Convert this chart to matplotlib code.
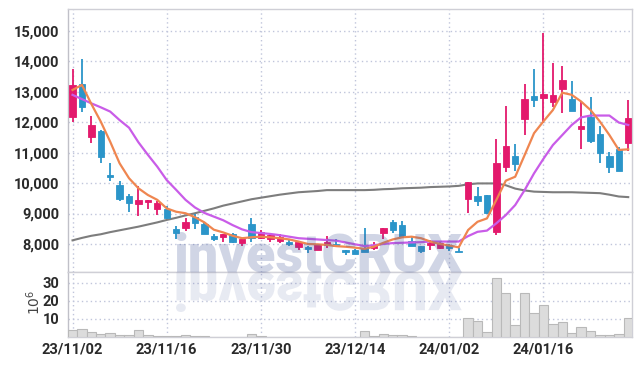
import matplotlib
matplotlib.use("Agg")
import matplotlib.pyplot as plt
import numpy as np
from matplotlib.textpath import TextPath
from matplotlib.patches import PathPatch
from matplotlib.font_manager import FontProperties
from matplotlib.transforms import Affine2D
from matplotlib.ticker import FuncFormatter

# ---------------- data ----------------
dates = ["23/11/02", "23/11/03", "23/11/06", "23/11/07", "23/11/08", "23/11/09", "23/11/10",
         "23/11/13", "23/11/14", "23/11/15", "23/11/16", "23/11/17", "23/11/20", "23/11/21",
         "23/11/22", "23/11/23", "23/11/24", "23/11/27", "23/11/28", "23/11/29", "23/11/30",
         "23/12/01", "23/12/04", "23/12/05", "23/12/06", "23/12/07", "23/12/08", "23/12/11",
         "23/12/12", "23/12/13", "23/12/14", "23/12/15", "23/12/18", "23/12/19", "23/12/20",
         "23/12/21", "23/12/22", "23/12/26", "23/12/27", "23/12/28", "24/01/02", "24/01/03",
         "24/01/04", "24/01/05", "24/01/08", "24/01/09", "24/01/10", "24/01/11", "24/01/12",
         "24/01/15", "24/01/16", "24/01/17", "24/01/18", "24/01/19", "24/01/22", "24/01/23",
         "24/01/24", "24/01/25", "24/01/26", "24/01/29"]

opens = [12180, 13260, 11530, 11710, 10270, 9940, 9580, 9300, 9390, 9140,
         9150, 8490, 8540, 8880, 8660, 8260, 8220, 8340, 8020, 8660,
         8210, 8160, 8110, 8070, 7910, 7910, 7800, 7970, 8000, 7800,
         7800, 7860, 7860, 8350, 8720, 8620, 8100, 7930, 7960, 7860,
         7970, 7780, 9470, 9580, 9610, 8400, 10540, 10890, 12100, 12870,
         12810, 12680, 13090, 12770, 11790, 12180, 11610, 10890, 11120, 11310]
closes = [13220, 12510, 11910, 10870, 10210, 9490, 9360, 9440, 9440, 9360,
          8840, 8370, 8730, 8700, 8330, 8150, 8330, 8060, 8150, 8200,
          8390, 8300, 8220, 8010, 8060, 7830, 8000, 8080, 7940, 7730,
          7680, 7750, 7970, 8520, 8460, 8240, 7950, 7780, 8040, 8040,
          7870, 7750, 10030, 9420, 9010, 10650, 11220, 10620, 12770, 12730,
          12930, 12890, 13390, 12380, 11860, 11390, 10980, 10540, 10400, 12130]
highs = [13740, 14070, 12200, 11730, 10670, 10080, 9630, 9910, 9460, 9410,
         9250, 8600, 8840, 8990, 8720, 8330, 8340, 8350, 8160, 8840,
         8460, 8370, 8330, 8160, 8070, 7920, 8010, 8260, 8160, 7810,
         7830, 8520, 8060, 8530, 8790, 8760, 8220, 7940, 8130, 8050,
         7990, 7880, 10040, 9880, 9620, 11440, 12540, 11280, 13250, 13740,
         14940, 13940, 13860, 13360, 12680, 12820, 11880, 11030, 11180, 12730]
lows = [12020, 12350, 11310, 10650, 10080, 9420, 9040, 8920, 9150, 8950,
        8830, 8160, 8440, 8480, 8320, 8100, 8080, 8020, 7930, 8050,
        8150, 8080, 8020, 7930, 7800, 7710, 7790, 7860, 7890, 7640,
        7670, 7740, 7800, 8150, 8370, 8230, 7940, 7690, 7800, 7850,
        7780, 7740, 9030, 9250, 9000, 8300, 10380, 10410, 11580, 12490,
        11970, 12510, 12300, 12370, 11120, 11330, 10650, 10320, 10390, 11070]

ma5 = [13060, 13225, 12600, 12020, 11360, 10650, 10160, 9830, 9610, 9450,
       9170, 9060, 9010, 8880, 8710, 8470, 8380, 8270, 8190, 8220,
       8240, 8220, 8190, 8150, 8080, 8000, 7990, 7970, 7930, 7910,
       7880, 7840, 7910, 8040, 8150, 8220, 8240, 8190, 8080, 8000,
       7950, 7890, 8460, 8730, 8840, 9450, 10080, 10210, 10920, 11640,
       12030, 12400, 12970, 12900, 12680, 12400, 12020, 11580, 11090, 11110]
ma20 = [12900, 12760, 12620, 12490, 12350, 12070, 11820, 11340, 10930, 10540,
        10100, 9780, 9450, 9200, 9020, 8900, 8780, 8620, 8480, 8390,
        8360, 8330, 8290, 8240, 8190, 8170, 8150, 8130, 8110, 8050,
        7990, 7930, 7960, 8000, 8030, 8040, 8050, 8060, 8080, 8080,
        8080, 8080, 8260, 8400, 8440, 8680, 8950, 9280, 9770, 10320,
        10800, 11250, 11580, 11910, 12160, 12220, 12220, 12220, 11990, 11910]
ma120 = [8120, 8200, 8270, 8320, 8390, 8450, 8510, 8570, 8640, 8710,
         8790, 8860, 8940, 9010, 9090, 9170, 9260, 9330, 9400, 9470,
         9520, 9570, 9620, 9660, 9700, 9720, 9740, 9770, 9770, 9770,
         9770, 9770, 9780, 9800, 9810, 9830, 9840, 9850, 9870, 9880,
         9890, 9910, 9960, 9990, 9990, 9990, 9930, 9820, 9760, 9720,
         9710, 9700, 9700, 9700, 9690, 9680, 9670, 9620, 9560, 9540]

volume = [3.7, 4.4, 2.8, 1.7, 2.2, 1.1, 1.1, 3.9, 1.1, 0.5,
          0.5, 0.5, 1.1, 0.7, 0.5, 0.2, 0.2, 0.2, 0.2, 1.8,
          0.6, 0.2, 0.2, 0.2, 0.2, 0.2, 0.2, 0.2, 0.2, 0.2,
          0.2, 3.5, 0.5, 1.7, 1.1, 1.1, 0.5, 0.2, 0.2, 0.2,
          0.2, 0.2, 10.5, 8.9, 2.9, 32.8, 24.4, 6.8, 24.4, 13.5,
          17.9, 7.4, 8.3, 2.4, 5.6, 3.5, 1.1, 1.1, 1.8, 10.5]

price_ticks = [8000, 9000, 10000, 11000, 12000, 13000, 14000, 15000]
vol_ticks = [10, 20, 30]
label_every = 10
watermark = "investCRUX"

# ---------------- style ----------------
UP = "#e3196c"
DOWN = "#2b95c9"
GRID = "#c0c5db"
SPINE = "#cfcfd6"
TXT = "#2a2a2a"
tick_font = ["Roboto", "DejaVu Sans"]

W, H = 642, 366
fig = plt.figure(figsize=(W / 100, H / 100), dpi=100)
fig.patch.set_facecolor("white")

L, R = 68 / W, 632 / W
main_b, main_t = (H - 272) / H, (H - 9) / H
vol_b = (H - 337) / H
ax = fig.add_axes([L, main_b, R - L, main_t - main_b])
axv = fig.add_axes([L, vol_b, R - L, main_b - vol_b], sharex=ax)

x = np.arange(len(dates))
o = np.array(opens, float); c = np.array(closes, float)
h = np.array(highs, float); lo = np.array(lows, float)
up = c >= o
cols = np.where(up, UP, DOWN)

# wicks
ax.vlines(x, lo, h, colors=cols, linewidth=1.3, zorder=3)
# bodies
bottom = np.minimum(o, c)
height = np.maximum(np.abs(c - o), 25)
ax.bar(x, height, bottom=bottom, width=0.68, color=cols, edgecolor=cols,
       linewidth=0.6, zorder=4)

# moving averages
ax.plot(x, ma120, color="#7d7d7d", lw=1.5, zorder=2)
ax.plot(x, ma20, color="#c95ce8", lw=1.6, zorder=5)
ax.plot(x, ma5, color="#ef8650", lw=1.6, zorder=6)

ax.set_ylim(7080, 15720)
ax.set_xlim(-0.48, 59.4)
ax.set_yticks(price_ticks)
ax.yaxis.set_major_formatter(FuncFormatter(lambda v, p: f"{int(v):,}"))

# volume
axv.bar(x, volume, width=1.0, color="#dcdcdc", edgecolor="#b9b9b9",
        linewidth=0.8, zorder=3)
axv.set_ylim(0, 36.1)
axv.set_yticks(vol_ticks)

tick_idx = list(range(0, len(dates), label_every))
axv.set_xticks(tick_idx)
axv.set_xticklabels([dates[i] for i in tick_idx])
ax.tick_params(axis="x", labelbottom=False)

for a in (ax, axv):
    a.set_facecolor("white")
    a.grid(True, color=GRID, linestyle=(0, (1, 2.2)), linewidth=1.0, zorder=0)
    a.set_axisbelow(True)
    a.tick_params(length=0, colors=TXT, pad=6)
    for s in a.spines.values():
        s.set_color(SPINE)
        s.set_linewidth(1.0)
    for lab in a.get_yticklabels() + a.get_xticklabels():
        lab.set_family(tick_font)
        lab.set_fontsize(10.5)
        lab.set_fontweight("bold")
        lab.set_color(TXT)
ax.spines["left"].set_color("#c0c0c8")
axv.spines["left"].set_color("#c0c0c8")
axv.tick_params(axis="x", pad=4)

fig.text(34 / W, (H - 302) / H, "$10^6$", rotation=90, color="#444444",
         fontsize=10, ha="center", va="center")

# ---------------- watermark ----------------
fp = FontProperties(family="Roboto", weight="black")
tp1 = TextPath((0, 0), watermark, size=1, prop=fp)
ext = tp1.get_extents()
x0, x1 = 176, 462
base = H - 272
fs_px = (x1 - x0) / ext.width
fig.text((x0 - ext.x0 * fs_px) / W, base / H, watermark, fontproperties=fp,
         fontsize=fs_px * 72 / 100, color="#4d5f9e", alpha=0.26,
         ha="left", va="baseline", zorder=10)
# mirrored reflection (decorative)
to_fig = Affine2D().scale(1 / W, 1 / H) + fig.transFigure
tr_ref = Affine2D().scale(fs_px, -fs_px).translate(x0 - ext.x0 * fs_px, base)
fig.add_artist(PathPatch(tr_ref.transform_path(tp1), transform=to_fig,
                         facecolor="#4d5f9e", edgecolor="none", alpha=0.13, zorder=10))

fig.savefig("out.png", dpi=100, facecolor="white")
